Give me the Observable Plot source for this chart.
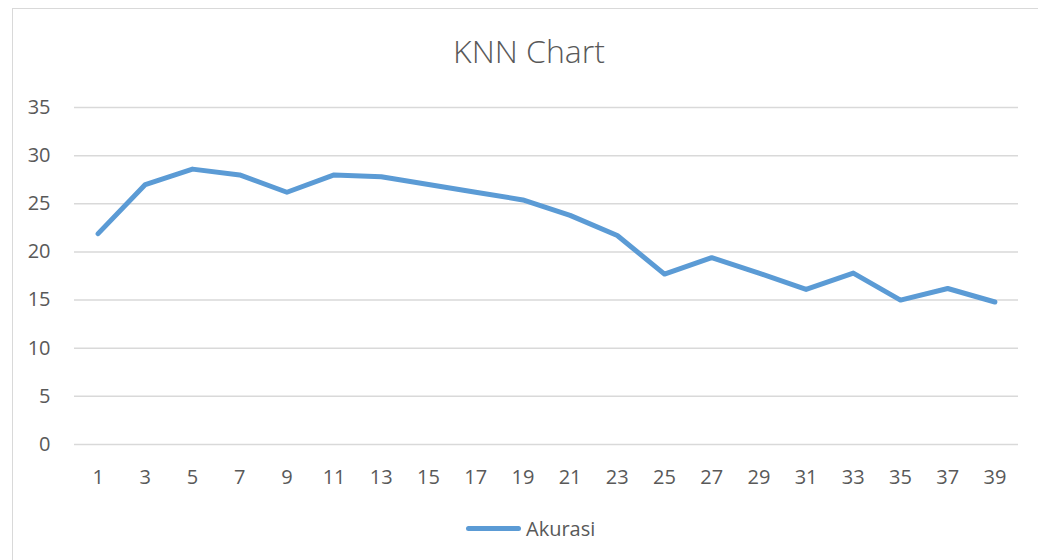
<!DOCTYPE html>
<html>
<head>
<meta charset="utf-8">
<script src="https://cdn.jsdelivr.net/npm/d3@7"></script>
<script src="https://cdn.jsdelivr.net/npm/@observablehq/plot@0.6"></script>
<style>
  html, body { margin: 0; padding: 0; background: #fff; }
  #wrap { position: relative; width: 1038px; height: 560px; overflow: hidden; font-family: "Open Sans", sans-serif; }
  #frame { position: absolute; left: 12px; top: 8px; width: 1040px; height: 570px; border: 1px solid #d9d9d9; box-sizing: border-box; }
  #title { position: absolute; left: 0; width: 1058px; top: 29px; line-height: 44px; text-align: center; font-size: 32px; font-weight: 300; color: #595959; }
  #chart { position: absolute; left: 0; top: 0; }
  #legend { position: absolute; top: 514px; left: 466px; height: 28px; display: flex; align-items: center; font-size: 20px; color: #595959; }
  #legend .sw { width: 55px; height: 5px; border-radius: 3px; background: #5b9bd5; margin-right: 5px; }
</style>
</head>
<body>
<div id="wrap">
  <div id="frame"></div>
  <div id="chart"></div>
  <div id="title">KNN Chart</div>
  <div id="legend"><div class="sw"></div><span>Akurasi</span></div>
</div>
<script>
const kValues = [1, 3, 5, 7, 9, 11, 13, 15, 17, 19, 21, 23, 25, 27, 29, 31, 33, 35, 37, 39];
const akurasi = [21.9, 27.0, 28.6, 28.0, 26.2, 28.0, 27.8, 27.0, 26.2, 25.4, 23.8, 21.7, 17.7, 19.4, 17.8, 16.1, 17.8, 15.0, 16.2, 14.8];
const yTicks = [0, 5, 10, 15, 20, 25, 30, 35];
const seriesName = "Akurasi";

const data = kValues.map((k, i) => ({k, v: akurasi[i], s: seriesName}));

const chart = Plot.plot({
  width: 1038,
  height: 500,
  marginLeft: 74,
  marginRight: 20,
  marginTop: 107,
  marginBottom: 56,
  style: {fontFamily: "'Open Sans', sans-serif", fontSize: "20px", color: "#595959", background: "transparent"},
  x: {type: "point", domain: kValues, padding: 0.5, round: false, label: null, tickSize: 0, tickPadding: 25},
  y: {domain: [0, 35], ticks: yTicks, label: null, tickSize: 0, tickPadding: 24},
  marks: [
    Plot.ruleY(yTicks, {stroke: "#d9d9d9", strokeWidth: 1.5, strokeOpacity: 1}),
    Plot.line(data, {x: "k", y: "v", stroke: "#5b9bd5", strokeWidth: 5, strokeLinejoin: "round", strokeLinecap: "round"})
  ]
});
document.getElementById("chart").appendChild(chart);
</script>
</body>
</html>
